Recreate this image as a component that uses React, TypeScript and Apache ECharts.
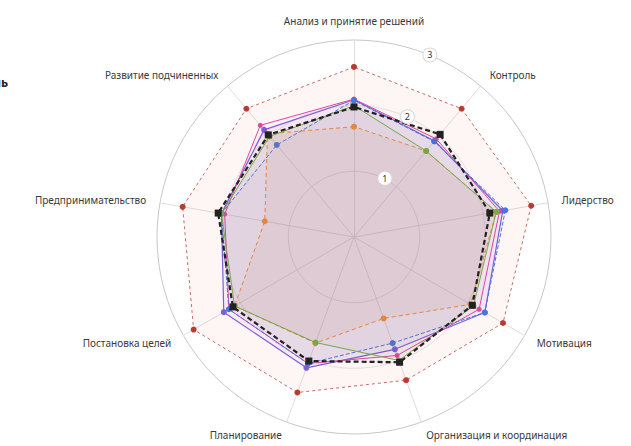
import React, { useEffect, useRef } from "react";
import * as echarts from "echarts";

// Axes in clockwise order from the top
const axesClockwise = [
  "Анализ и принятие решений",
  "Контроль",
  "Лидерство",
  "Мотивация",
  "Организация и координация",
  "Планирование",
  "Постановка целей",
  "Предпринимательство",
  "Развитие подчиненных",
];

const ringTicks = [0, 1, 2, 3];

// values in clockwise order (same as axesClockwise)
const redValues = [2.59, 2.55, 2.74, 2.62, 2.32, 2.52, 2.82, 2.65, 2.55];
const purpleValues = [2.09, 1.91, 2.3, 2.3, 1.82, 2.12, 2.29, 2.05, 2.13];
const pinkValues = [2.1, 1.95, 2.25, 2.2, 1.92, 2.05, 2.2, 2.0, 2.22];
const blueValues = [2.08, 1.9, 2.34, 2.3, 1.72, 2.05, 2.2, 2.05, 1.83];
const blackValues = [1.98, 2.04, 2.1, 2.08, 2.03, 2.01, 2.13, 2.1, 2.03];
const orangeValues = [1.68, 1.71, 2.2, 2.05, 1.32, 1.72, 2.1, 1.38, 2.05];
const greenValues = [2.0, 1.71, 2.2, 2.1, 2.0, 1.71, 2.1, 2.05, 2.0];

// ECharts lays radar indicators out counter-clockwise; reorder
const toCCW = (arr: any[]) => [arr[0], ...arr.slice(1).reverse()];

export default function App() {
  const ref = useRef<HTMLDivElement>(null);
  useEffect(() => {
    if (!ref.current) return;
    const chart = echarts.init(ref.current, null, { renderer: "svg" });
    const cx = 354;
    const cy = 237;
    const R = 197;
    const maxV = ringTicks[ringTicks.length - 1];

    const mk = (
      name: string,
      values: number[],
      color: string,
      fill: string,
      lineType: any,
      width: number,
      symbol: string,
      symbolSize: number,
      z: number,
      opacity = 1
    ) => ({
      type: "radar",
      name,
      z,
      symbol,
      symbolSize,
      data: [{ value: toCCW(values), name }],
      itemStyle: { color },
      lineStyle: { color, width, type: lineType, opacity },
      areaStyle: { color: fill },
    });

    chart.setOption({
      animation: false,
      backgroundColor: "#ffffff",
      textStyle: { fontFamily: "Noto Sans" },
      graphic: [
        {
          type: "text",
          right: 623,
          top: 76,
          style: {
            text: "Профиль",
            fontSize: 12,
            fontWeight: "bold",
            fill: "#222",
            fontFamily: "Noto Sans",
          },
        },
      ],
      radar: {
        center: [cx, cy],
        radius: R,
        startAngle: 90,
        shape: "circle",
        splitNumber: 3,
        indicator: toCCW(axesClockwise).map((n: string) => ({ name: n, min: 0, max: maxV })),
        axisName: { color: "#3a3a3a", fontSize: 10 },
        nameGap: 14,
        axisLine: { lineStyle: { color: "#dedede", width: 1 } },
        splitLine: { lineStyle: { color: ["#c8c8c8", "#e2e2e2", "#e6e6e6"], width: 1 } },
        splitArea: { show: false },
        axisTick: { show: false },
        axisLabel: { show: false },
      },
      polar: { center: [cx, cy], radius: R },
      angleAxis: { startAngle: 70, min: 0, max: 360, show: false },
      radiusAxis: {
        min: 0,
        max: maxV,
        interval: 1,
        axisLine: { show: false },
        axisTick: { show: false },
        splitLine: { show: false },
        z: 20,
        axisLabel: {
          showMinLabel: false,
          margin: -9,
          color: "#333",
          fontSize: 9,
          backgroundColor: "#ffffff",
          borderColor: "#d8d8d8",
          borderWidth: 1,
          borderRadius: 8,
          padding: [2, 4, 2, 4],
          align: "center",
          verticalAlign: "middle",
        },
      },
      series: [
        { type: "scatter", coordinateSystem: "polar", data: [], silent: true },
        mk("Эталон", redValues, "#b83a30", "rgba(235,120,110,0.10)", [3, 3], 1, "circle", 6, 2, 0.75),
        mk("Руководитель", purpleValues, "#7b5fd9", "rgba(130,100,220,0.09)", "solid", 1.2, "circle", 6, 3),
        mk("Коллеги", pinkValues, "#e0479e", "rgba(230,80,160,0.04)", "solid", 1, "circle", 5, 4),
        mk("Подчиненные", blueValues, "#4a74e0", "rgba(80,120,230,0.05)", [4, 2], 1, "circle", 6, 5),
        mk("Среднее", blackValues, "#222222", "rgba(80,60,60,0.06)", [5, 3], 2.2, "rect", 7, 8),
        mk("Самооценка", orangeValues, "#f08c3c", "rgba(200,140,120,0.16)", [4, 3], 1, "circle", 6, 6),
        mk("Клиенты", greenValues, "#7aab4a", "rgba(140,130,110,0.08)", "solid", 1, "circle", 6, 7),
      ],
    });
    return () => chart.dispose();
  }, []);
  return (
    <div
      ref={ref}
      style={{ position: "fixed", left: 0, top: 0, width: 631, height: 446 }}
    />
  );
}
